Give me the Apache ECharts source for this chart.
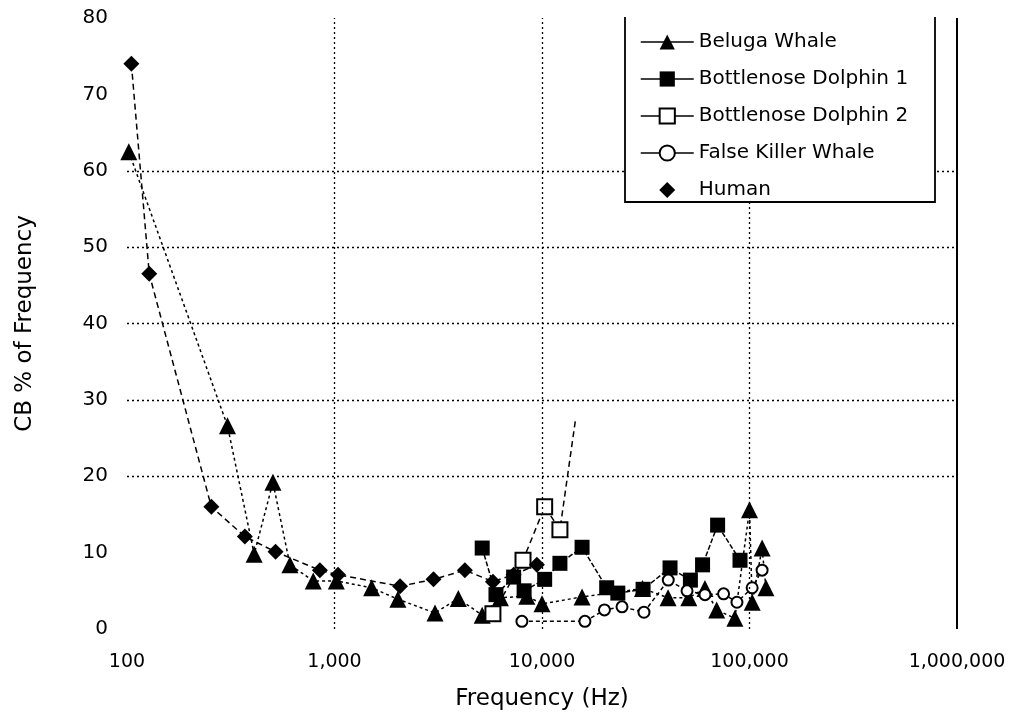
<!DOCTYPE html>
<html>
<head>
<meta charset="utf-8">
<script src="https://cdn.jsdelivr.net/npm/echarts@6/dist/echarts.min.js"></script>
<style>html,body{margin:0;padding:0;background:#fff}#c{width:1016px;height:721px}</style>
</head>
<body>
<div id="c"></div>
<script>
// ---- data ----
var xTickLabels = ['100', '1,000', '10,000', '100,000', '1,000,000'];
var yGridValues = [20, 30, 40, 50, 60];
var xGridValues = [1000, 10000, 100000];

var belugaFreq = [102, 305, 410, 505, 610, 790, 1020, 1510, 2020, 3050, 3950, 5150, 6300, 8450, 10000, 15600, 30500, 40500, 51000, 61000, 69500, 85000, 100000, 103000, 115000, 120000];
var belugaCB   = [62.5, 26.6, 9.8, 19.2, 8.4, 6.3, 6.3, 5.4, 3.9, 2.1, 4.0, 1.8, 4.1, 4.3, 3.3, 4.2, 5.3, 4.1, 4.1, 5.3, 2.5, 1.4, 15.6, 3.5, 10.6, 5.4];

var dolphin1Freq = [5150, 6000, 7300, 8200, 10300, 12200, 15600, 20500, 23200, 30700, 41400, 51900, 59400, 70200, 90000];
var dolphin1CB   = [10.6, 4.5, 6.8, 5.0, 6.5, 8.6, 10.7, 5.4, 4.7, 5.2, 8.0, 6.4, 8.4, 13.6, 9.0];

var dolphin2Freq = [5800, 8100, 10300, 12200, 14500];
var dolphin2CB   = [2.0, 9.0, 16.0, 13.0, 27.4];

var fkwFreq = [8000, 16100, 20000, 24300, 31000, 40600, 50000, 61000, 75000, 87000, 103000, 115000];
var fkwCB   = [1.0, 1.0, 2.5, 2.9, 2.2, 6.4, 5.0, 4.5, 4.6, 3.5, 5.4, 7.7];

var humanFreq = [105, 128, 255, 370, 520, 850, 1040, 2070, 3000, 4250, 5800, 7300, 9450];
var humanCB   = [74.0, 46.5, 16.0, 12.1, 10.1, 7.7, 7.1, 5.6, 6.5, 7.7, 6.2, 7.1, 8.4];

var seriesNames = ['Beluga Whale', 'Bottlenose Dolphin 1', 'Bottlenose Dolphin 2', 'False Killer Whale', 'Human'];

function zip(f, v) { return f.map(function (x, i) { return [x, v[i]]; }); }

var FONT = 'DejaVu Sans';
var chart = echarts.init(document.getElementById('c'));

var d2 = zip(dolphin2Freq, dolphin2CB).map(function (p, i, arr) {
  return i === arr.length - 1 ? { value: p, symbol: 'none' } : p;
});

// diamond centred in a wide box (degenerate end points only widen the bounding box)
var legendDiamond = 'path://M-26.5,0L-26.5,0.01L-26.49,0Z M0,-8L8,0L0,8L-8,0Z M26.5,0L26.5,0.01L26.49,0Z';

chart.setOption({
  backgroundColor: '#fff',
  animation: false,
  textStyle: { fontFamily: FONT, color: '#000' },
  grid: { left: 127, right: 59, top: 18, bottom: 92 },
  xAxis: {
    type: 'log', logBase: 10, min: 100, max: 1000000,
    name: 'Frequency (Hz)', nameLocation: 'middle', nameGap: 59,
    nameTextStyle: { fontFamily: FONT, fontSize: 23, color: '#000' },
    axisLine: { show: false }, axisTick: { show: false }, splitLine: { show: false },
    axisLabel: {
      fontFamily: FONT, fontSize: 19, color: '#000', margin: 24,
      formatter: function (v) { return xTickLabels[Math.round(Math.log10(v)) - 2]; }
    }
  },
  yAxis: {
    type: 'value', min: 0, max: 80, interval: 10,
    name: 'CB % of Frequency', nameLocation: 'middle', nameGap: 90, nameRotate: 90,
    nameTextStyle: { fontFamily: FONT, fontSize: 23, color: '#000' },
    axisLine: { show: false }, axisTick: { show: false }, splitLine: { show: false },
    axisLabel: { fontFamily: FONT, fontSize: 20, color: '#000', margin: 19 }
  },
  legend: {
    data: [
      { name: seriesNames[0] }, { name: seriesNames[1] }, { name: seriesNames[2] },
      { name: seriesNames[3] }, { name: seriesNames[4], icon: legendDiamond }
    ],
    orient: 'vertical', left: 635, top: 27,
    itemWidth: 53, itemHeight: 19, itemGap: 17,
    lineStyle: { type: 'solid', width: 1.5 },
    textStyle: { fontFamily: FONT, fontSize: 20, color: '#000', padding: [0, 0, 0, 0] },
    z: 20
  },
  graphic: [
    { type: 'rect', shape: { x: 625, y: 17, width: 310, height: 185 }, style: { fill: '#fff' }, z: 10, silent: true },
    { type: 'polyline', shape: { points: [[625, 17], [625, 202], [935, 202], [935, 17]] }, style: { stroke: '#000', lineWidth: 1.8, fill: null }, z: 11, silent: true }
  ],
  series: [
    {
      name: seriesNames[0], type: 'line', data: zip(belugaFreq, belugaCB),
      symbol: 'triangle', symbolSize: 17,
      lineStyle: { color: '#000', width: 1.5, type: [3, 3] },
      itemStyle: { color: '#000' }, z: 3,
      markLine: {
        silent: true, symbol: 'none', label: { show: false },
        lineStyle: { color: '#000', width: 1.3, type: [2, 3] },
        data: yGridValues.map(function (v) { return { yAxis: v }; })
          .concat(xGridValues.map(function (v) { return { xAxis: v }; }))
          .concat([{ xAxis: 1000000, lineStyle: { type: 'solid', width: 2 } }])
      }
    },
    {
      name: seriesNames[1], type: 'line', data: zip(dolphin1Freq, dolphin1CB),
      symbol: 'rect', symbolSize: 15,
      lineStyle: { color: '#000', width: 1.5, type: [5, 2] },
      itemStyle: { color: '#000' }, z: 3
    },
    {
      name: seriesNames[2], type: 'line', data: d2,
      symbol: 'emptyRect', symbolSize: 15,
      lineStyle: { color: '#000', width: 1.5, type: [6, 4] },
      itemStyle: { color: '#000', borderColor: '#000', borderWidth: 1.8 }, z: 3
    },
    {
      name: seriesNames[3], type: 'line', data: zip(fkwFreq, fkwCB),
      symbol: 'emptyCircle', symbolSize: 11,
      lineStyle: { color: '#000', width: 1.5, type: [4, 3] },
      itemStyle: { color: '#000', borderColor: '#000', borderWidth: 1.5 }, z: 3
    },
    {
      name: seriesNames[4], type: 'line', data: zip(humanFreq, humanCB),
      symbol: 'diamond', symbolSize: 16,
      lineStyle: { color: '#000', width: 1.5, type: [6, 4] },
      itemStyle: { color: '#000' }, z: 3
    }
  ]
});
</script>
</body>
</html>
